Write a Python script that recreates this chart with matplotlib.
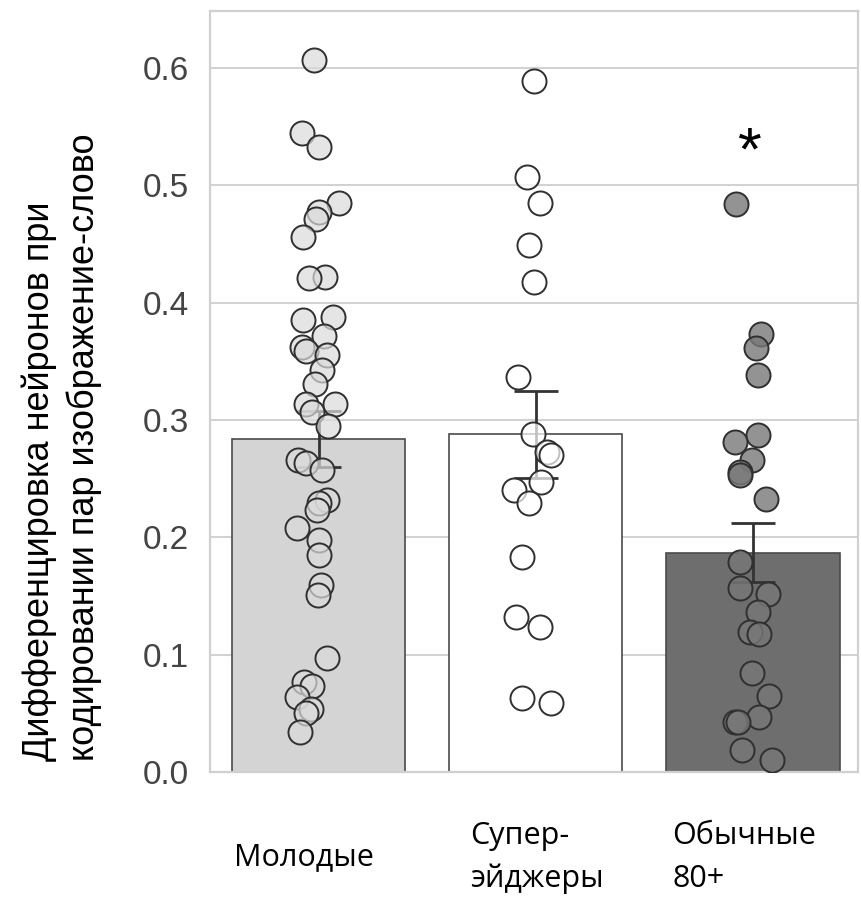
import numpy as np
import matplotlib
matplotlib.use('Agg')
import matplotlib.pyplot as plt

##########################################################################
# Group data
groups = ['Молодые', 'Супер-\nэйджеры', 'Обычные\n80+']
means = [0.284, 0.288, 0.187]
sems = [0.024, 0.037, 0.025]

young = [0.607, 0.545, 0.533, 0.485, 0.477, 0.471, 0.456, 0.422, 0.421,
         0.388, 0.385, 0.372, 0.362, 0.359, 0.355, 0.343, 0.331, 0.314,
         0.314, 0.307, 0.295, 0.266, 0.263, 0.257, 0.232, 0.229, 0.223,
         0.208, 0.198, 0.185, 0.159, 0.151, 0.097, 0.077, 0.073, 0.064,
         0.054, 0.050, 0.034]
super_agers = [0.589, 0.507, 0.485, 0.449, 0.418, 0.337, 0.288, 0.273,
               0.270, 0.247, 0.240, 0.229, 0.183, 0.132, 0.124, 0.063,
               0.059]
typical = [0.484, 0.373, 0.361, 0.338, 0.287, 0.281, 0.266, 0.256, 0.253,
           0.233, 0.179, 0.157, 0.152, 0.136, 0.119, 0.118, 0.084, 0.065,
           0.047, 0.043, 0.043, 0.019, 0.010]

# fixed horizontal jitter of the points (category units)
jit_young = [-0.02, -0.076, 0.0, 0.094, 0.0, -0.01, -0.071, 0.03, -0.044,
             0.067, -0.071, 0.025, -0.076, -0.058, 0.039, 0.016, -0.016,
             -0.058, 0.076, -0.03, 0.044, -0.094, -0.058, 0.016, 0.039,
             0.002, -0.007, -0.099, 0.002, 0.002, 0.012, -0.002, 0.039,
             -0.067, -0.03, -0.099, -0.035, -0.058, -0.085]
jit_super = [-0.009, -0.041, 0.018, -0.032, -0.009, -0.083, -0.014, 0.051,
             0.069, 0.023, -0.101, -0.032, -0.065, -0.092, 0.018, -0.065,
             0.069]
jit_typical = [-0.078, 0.037, 0.014, 0.023, 0.023, -0.083, -0.005, -0.06,
               -0.06, 0.06, -0.06, -0.06, 0.069, 0.023, -0.014, 0.028,
               -0.005, 0.074, 0.028, -0.083, -0.069, -0.051, 0.088]

points = [young, super_agers, typical]
jitters = [jit_young, jit_super, jit_typical]

bar_colors = ['#d4d4d4', '#ffffff', '#6e6e6e']
dot_colors = [(0.86, 0.86, 0.86, 0.7), (1, 1, 1, 0.7), (0.47, 0.47, 0.47, 0.8)]
label_dx = [-0.39, -0.30, -0.37]

##########################################################################
fig = plt.figure(figsize=(8.61, 8.99), dpi=100)
ax = fig.add_axes([210/861, 127/899, 648/861, 761/899])

x = np.arange(len(groups))
ax.bar(x, means, width=0.8, color=bar_colors, edgecolor='#4a4a4a',
       linewidth=1.2, zorder=2)
ax.errorbar(x, means, yerr=sems, fmt='none', ecolor='#333333',
            elinewidth=2.0, capsize=16, capthick=2.0, zorder=3)

for i in range(len(groups)):
    xs = i + np.array(jitters[i])
    ax.scatter(xs, points[i], s=300, facecolors=[dot_colors[i]],
               edgecolors='#303030', linewidths=1.4, zorder=4)

# significance mark over the 80+ group
ax.text(2 - 0.014, 0.527, '*', ha='center', va='center', fontsize=44,
        family='Liberation Sans', color='black', zorder=5)

###
ax.set_xlim(-0.5, 2.485)
ax.set_ylim(0, 0.6486)
ax.set_yticks(np.arange(0, 0.61, 0.1))
ax.set_yticklabels(['%.1f' % v for v in np.arange(0, 0.61, 0.1)],
                   family='Liberation Sans', fontsize=24, color='#444444')
ax.set_xticks([])
ax.tick_params(axis='y', length=0, pad=15)
ax.yaxis.grid(True, color='#d2d2d2', linewidth=1.5, zorder=0)
ax.set_axisbelow(True)
for sp in ax.spines.values():
    sp.set_color('#d0d0d0')
    sp.set_linewidth(1.6)

ax.set_ylabel('Дифференцировка нейронов при\nкодировании пар изображение-слово',
              family='Liberation Sans', fontsize=26, color='black',
              linespacing=1.35, multialignment='left')
ax.yaxis.set_label_coords(-0.167, 0.427)

for i, name in enumerate(groups):
    ax.text(i + label_dx[i], -0.112, name, transform=ax.get_xaxis_transform(),
            ha='left', va='center', fontsize=22, linespacing=1.55,
            family=['Open Sans', 'DejaVu Sans'], color='black')

fig.savefig('out.png', dpi=100)
